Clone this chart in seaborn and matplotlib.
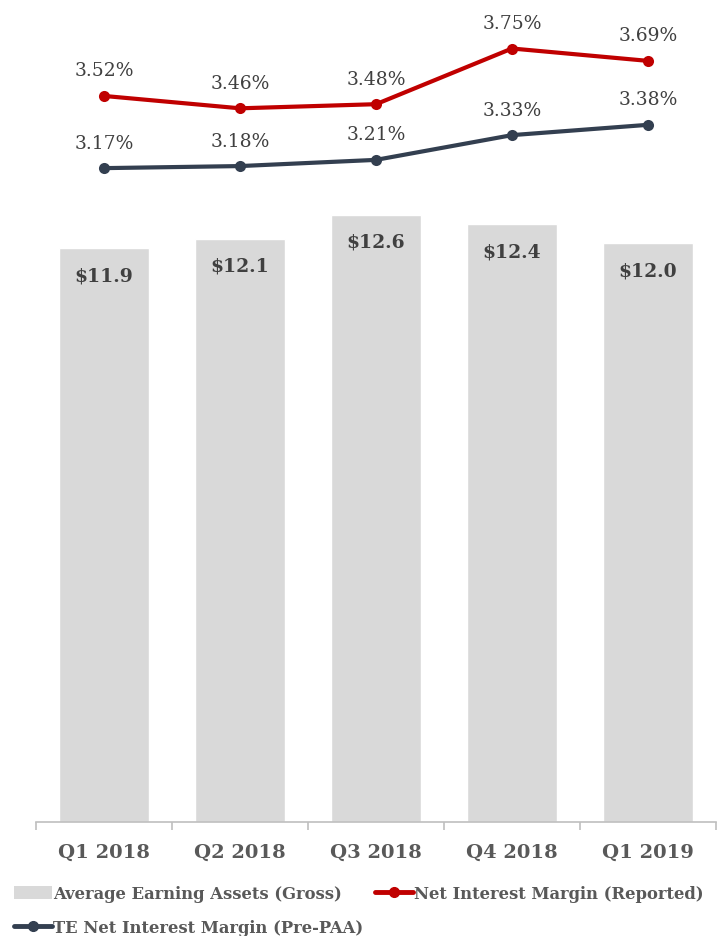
import matplotlib
matplotlib.use("Agg")
import matplotlib.pyplot as plt
import numpy as np
import pandas as pd
import seaborn as sns
from matplotlib.lines import Line2D
from matplotlib.patches import Patch

categories = ["Q1 2018", "Q2 2018", "Q3 2018", "Q4 2018", "Q1 2019"]
earning_assets = [11.9, 12.1, 12.6, 12.4, 12.0]
nim_reported = [3.52, 3.46, 3.48, 3.75, 3.69]
te_nim = [3.17, 3.18, 3.21, 3.33, 3.38]
bar_labels = ["$11.9", "$12.1", "$12.6", "$12.4", "$12.0"]
nim_labels = ["3.52%", "3.46%", "3.48%", "3.75%", "3.69%"]
te_labels = ["3.17%", "3.18%", "3.21%", "3.33%", "3.38%"]

sns.set_theme(style="white")
plt.rcParams["font.family"] = ["DejaVu Serif"]

GRAY = "#D9D9D9"
RED = "#C00000"
NAVY = "#333F50"
TXT = "#404040"

fig = plt.figure(figsize=(7.28, 9.37), dpi=100)
ax = fig.add_axes([0.0495, 0.1217, 0.934, 0.8783])

df = pd.DataFrame({"cat": categories, "val": earning_assets})
sns.barplot(data=df, x="cat", y="val", color=GRAY, width=0.66, saturation=1, ax=ax)
ax.set_ylim(0, 17.07)
ax.set_xlim(-0.5, len(categories) - 0.5)
for i, (v, lab) in enumerate(zip(earning_assets, bar_labels)):
    ax.text(i, v - 0.38, lab, ha="center", va="top", fontsize=13.5,
            fontweight="bold", color=TXT)

ax2 = ax.twinx()
pos = np.arange(len(categories))
ldf = pd.DataFrame({"x": np.concatenate([pos, pos]),
                    "y": nim_reported + te_nim,
                    "s": ["r"] * 5 + ["t"] * 5})
sns.lineplot(data=ldf, x="x", y="y", hue="s", palette={"r": RED, "t": NAVY},
             marker="o", markersize=8, markeredgewidth=0, linewidth=3,
             legend=False, ax=ax2)
ax2.set_ylim(0, 3.99)
for i in range(len(categories)):
    ax2.text(i, nim_reported[i] + 0.08, nim_labels[i], ha="center", va="bottom",
             fontsize=13.5, color=TXT)
    ax2.text(i, te_nim[i] + 0.08, te_labels[i], ha="center", va="bottom",
             fontsize=13.5, color=TXT)

for a in (ax, ax2):
    for s in ["top", "right", "left"]:
        a.spines[s].set_visible(False)
    a.set_yticks([])
    a.set_ylabel("")
    a.set_xlabel("")
ax2.spines["bottom"].set_visible(False)
ax.spines["bottom"].set_color("#BFBFBF")
ax.spines["bottom"].set_linewidth(1.2)

ax.set_xticks(pos)
ax.set_xticklabels(categories, fontsize=14, fontweight="bold", color="#595959")
ax.set_xticks(np.arange(-0.5, len(categories)), minor=True)
ax.tick_params(axis="x", which="major", length=0, pad=15)
ax.tick_params(axis="x", which="minor", length=6, width=1.2, color="#BFBFBF",
               direction="out", bottom=True)
ax2.set_xlim(-0.5, len(categories) - 0.5)

handles = [
    Patch(facecolor=GRAY, edgecolor="none", label="Average Earning Assets (Gross)"),
    Line2D([0], [0], color=NAVY, lw=3.5, marker="o", markersize=7,
           label="TE Net Interest Margin (Pre-PAA)"),
    Line2D([0], [0], color=RED, lw=3.5, marker="o", markersize=7,
           label="Net Interest Margin (Reported)"),
]
leg = fig.legend(handles=handles, ncol=2, loc="upper left",
                 bbox_to_anchor=(0.008, 0.063), frameon=False,
                 prop={"size": 11.8, "weight": "bold"}, labelcolor="#595959",
                 handlelength=2.3, handleheight=0.8, handletextpad=0.1,
                 columnspacing=0.7, labelspacing=1.05, borderpad=0.0)

fig.savefig("out.png", dpi=100)
